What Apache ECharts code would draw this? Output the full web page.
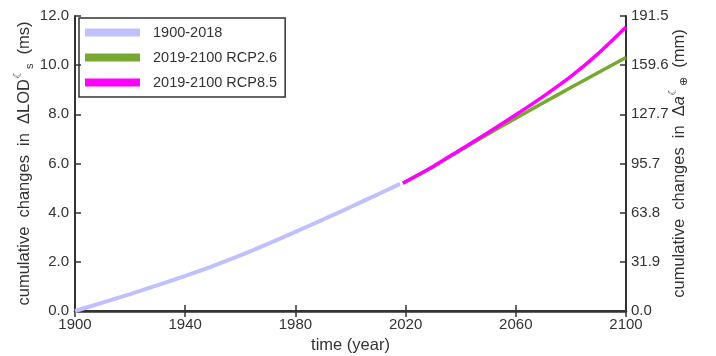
<!DOCTYPE html>
<html>
<head>
<meta charset="utf-8">
<script src="https://cdn.jsdelivr.net/npm/echarts@6/dist/echarts.min.js"></script>
<style>html,body{margin:0;padding:0;background:#fff;}#c{width:716px;height:356px;}</style>
</head>
<body>
<div id="c"></div>
<script>
const histYears = [1900, 1910, 1920, 1930, 1940, 1950, 1960, 1970, 1980, 1990, 2000, 2010, 2018];
const histValues = [0.0, 0.34, 0.69, 1.05, 1.43, 1.83, 2.26, 2.73, 3.22, 3.72, 4.23, 4.75, 5.17];
const futYears = [2019, 2030, 2040, 2050, 2060, 2070, 2080, 2090, 2100];
const rcp26Values = [5.2, 5.87, 6.54, 7.2, 7.84, 8.47, 9.09, 9.70, 10.31];
const rcp85Values = [5.2, 5.88, 6.57, 7.26, 7.98, 8.73, 9.54, 10.48, 11.55];
const leftTicks = [0, 2, 4, 6, 8, 10, 12];
const rightTickLabels = ['0.0', '31.9', '63.8', '95.7', '127.7', '159.6', '191.5'];
const legendNames = ['1900-2018', '2019-2100 RCP2.6', '2019-2100 RCP8.5'];
const colors = ['#c0c0ff', '#76a832', '#ff00ff'];

const pair = (xs, ys) => xs.map((x, i) => [x, ys[i]]);
const FONT = 'Liberation Sans, Arial, sans-serif';
const axisCol = '#333';

const chart = echarts.init(document.getElementById('c'));
chart.setOption({
  animation: false,
  textStyle: { fontFamily: FONT },
  grid: { left: 75, right: 90, top: 16, bottom: 45, containLabel: false, outerBoundsMode: 'none' },
  legend: {
    orient: 'vertical', left: 79, top: 18,
    data: legendNames,
    icon: 'rect', itemWidth: 55, itemHeight: 8, itemGap: 10,
    padding: [7, 8, 7, 6],
    borderColor: '#333', borderWidth: 1.5,
    textStyle: { fontSize: 14.5, color: '#333', fontFamily: FONT, padding: [0, 0, 0, 8] }
  },
  xAxis: [{
    type: 'value', min: 1900, max: 2100, interval: 40,
    name: 'time (year)', nameLocation: 'middle', nameGap: 26, nameMoveOverlap: false,
    nameTextStyle: { fontSize: 16.5, color: '#333' },
    axisLine: { lineStyle: { color: axisCol, width: 2.5 } },
    axisTick: { inside: true, length: 6, lineStyle: { color: axisCol, width: 1.5 } },
    axisLabel: { fontSize: 15, color: '#333', margin: 6, formatter: v => String(v) },
    splitLine: { show: false }
  }, {
    type: 'value', min: 1900, max: 2100, interval: 40, position: 'top',
    axisLine: { show: true, lineStyle: { color: axisCol, width: 2 } },
    axisTick: { inside: true, length: 6, lineStyle: { color: axisCol, width: 1.5 } },
    axisLabel: { show: false }, splitLine: { show: false }
  }],
  yAxis: [{
    type: 'value', min: 0, max: 12, interval: 2,
    name: '{t|cumulative  changes  in  ΔLOD}{sup|☾}{sub|s}{t|  (ms)}',
    nameLocation: 'middle', nameGap: 40, nameRotate: 90, nameMoveOverlap: false,
    nameTextStyle: {
      color: '#333',
      rich: {
        t: { fontSize: 16.5, color: '#333', fontFamily: FONT, lineHeight: 22 },
        sup: { fontSize: 11, color: '#333', fontFamily: 'DejaVu Sans', verticalAlign: 'top', lineHeight: 22 },
        sub: { fontSize: 11, color: '#333', fontFamily: FONT, verticalAlign: 'bottom', lineHeight: 22 }
      }
    },
    axisLine: { show: true, lineStyle: { color: axisCol, width: 2 } },
    axisTick: { inside: true, length: 6, lineStyle: { color: axisCol, width: 1.5 } },
    axisLabel: { fontSize: 15, color: '#333', margin: 6, formatter: v => v.toFixed(1) },
    splitLine: { show: false }
  }, {
    type: 'value', min: 0, max: 12, interval: 2, position: 'right',
    name: '{t|cumulative  changes  in  Δ}{i|a}{sup|☾}{sub|⊕}{t|  (mm)}',
    nameLocation: 'middle', nameGap: 42, nameRotate: 90, nameMoveOverlap: false,
    nameTextStyle: {
      color: '#333',
      rich: {
        t: { fontSize: 16.5, color: '#333', fontFamily: FONT, lineHeight: 22 },
        i: { fontSize: 16.5, color: '#333', fontFamily: FONT, fontStyle: 'italic', lineHeight: 22 },
        sup: { fontSize: 11, color: '#333', fontFamily: 'DejaVu Sans', verticalAlign: 'top', lineHeight: 22 },
        sub: { fontSize: 11, color: '#333', fontFamily: 'DejaVu Sans', verticalAlign: 'bottom', lineHeight: 22 }
      }
    },
    axisLine: { show: true, lineStyle: { color: axisCol, width: 2 } },
    axisTick: { inside: true, length: 6, lineStyle: { color: axisCol, width: 1.5 } },
    axisLabel: { fontSize: 15, color: '#333', margin: 5,
      formatter: v => rightTickLabels[leftTicks.indexOf(Math.round(v))] },
    splitLine: { show: false }
  }],
  series: [{
    name: legendNames[0], type: 'line', data: pair(histYears, histValues),
    smooth: 0.3, showSymbol: false, color: colors[0],
    lineStyle: { width: 4, color: colors[0] }, itemStyle: { color: colors[0] }
  }, {
    name: legendNames[1], type: 'line', data: pair(futYears, rcp26Values),
    smooth: 0.3, showSymbol: false, color: colors[1],
    lineStyle: { width: 3.5, color: colors[1] }, itemStyle: { color: colors[1] }
  }, {
    name: legendNames[2], type: 'line', data: pair(futYears, rcp85Values),
    smooth: 0.3, showSymbol: false, color: colors[2],
    lineStyle: { width: 3.5, color: colors[2] }, itemStyle: { color: colors[2] }
  }]
});
</script>
</body>
</html>
